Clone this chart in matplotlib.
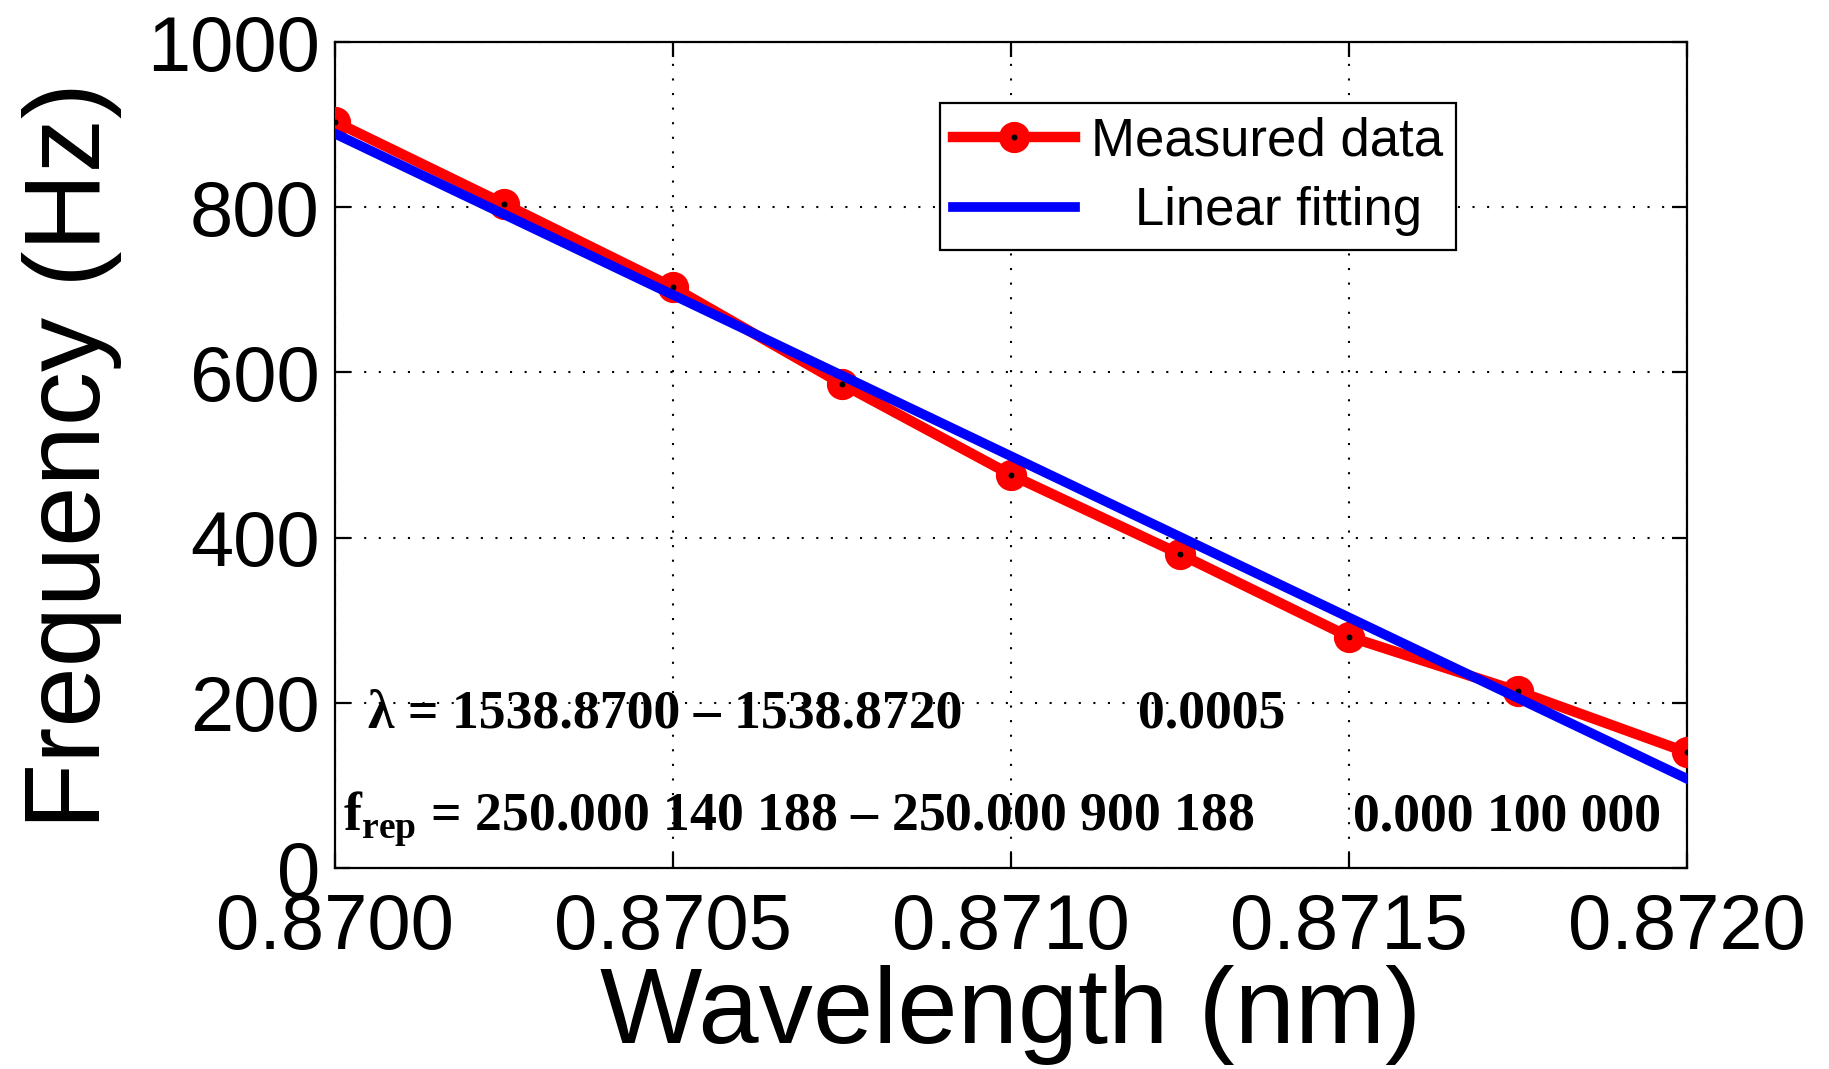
import matplotlib
matplotlib.use("Agg")
import matplotlib.pyplot as plt

plt.rcParams['font.family'] = ['Liberation Sans', 'DejaVu Sans']
plt.rcParams['mathtext.fontset'] = 'custom'
plt.rcParams['mathtext.rm'] = 'Liberation Serif'
plt.rcParams['mathtext.bf'] = 'Liberation Serif:bold'

# Datos
longitud = [0.87000, 0.87025, 0.87050, 0.87075, 0.87100, 0.87125, 0.87150, 0.87175, 0.87200]
frecuencia = [903.5, 804, 703, 586, 476, 380, 280, 214, 140]

# Ajuste lineal (extremos leidos)
ajuste_x = [0.8700, 0.8720]
ajuste_y = [889, 108]

xticks = [0.8700, 0.8705, 0.8710, 0.8715, 0.8720]
yticks = [0, 200, 400, 600, 800, 1000]

fig = plt.figure(figsize=(18.29, 10.69), dpi=100)
ax = fig.add_axes([0.1832, 0.188, 0.7392, 0.7727])

l_med, = ax.plot(longitud, frecuencia, '-o', color='red', lw=7.5,
                 ms=13.5, mfc='black', mec='red', mew=9, zorder=3,
                 label='Measured data')
l_fit, = ax.plot(ajuste_x, ajuste_y, '-', color='blue', lw=7, zorder=4,
                 label='   Linear fitting')

ax.set_xlim(0.8700, 0.8720)
ax.set_ylim(0, 1000)
ax.set_xticks(xticks)
ax.set_xticklabels(["%.4f" % v for v in xticks])
ax.set_yticks(yticks)

ax.grid(True, color='black', linestyle=(0, (1, 6)), linewidth=1.5)
ax.set_axisbelow(True)

for s in ax.spines.values():
    s.set_linewidth(1.6)
ax.tick_params(axis='both', direction='in', length=10.5, width=1.6,
               top=True, right=True, labelsize=56)
ax.tick_params(axis='x', pad=17)
ax.tick_params(axis='y', pad=11)

ax.set_xlabel('Wavelength (nm)', fontsize=78)
ax.set_ylabel('Frequency (Hz)', fontsize=78)
ax.xaxis.set_label_coords(0.5, -0.118)
ax.yaxis.set_label_coords(-0.1575, 0.5)

leg = ax.legend(handles=[l_med, l_fit], loc='upper left',
                bbox_to_anchor=(0.4475, 0.926), borderaxespad=0,
                fontsize=38, numpoints=1, handlelength=2.3,
                handletextpad=0.3, labelspacing=0.38, borderpad=0.25,
                fancybox=False, framealpha=1, edgecolor='black')
leg.get_frame().set_linewidth(1.6)

# Anotaciones
txt = dict(family='Liberation Serif', fontweight='bold', fontsize=38.7,
           va='baseline', ha='left', zorder=5)
ax.text(0.870049, 170.7, "λ = 1538.8700 – 1538.8720", **txt)
ax.text(0.871188, 170.7, "0.0005", **txt)
ax.text(0.870012, 46, r"$\mathbf{f}_{\mathbf{rep}}$ = 250.000 140 188 – 250.000 900 188", **txt)
ax.text(0.871506, 46, "0.000 100 000", **txt)

plt.savefig("out.png", dpi=100)
